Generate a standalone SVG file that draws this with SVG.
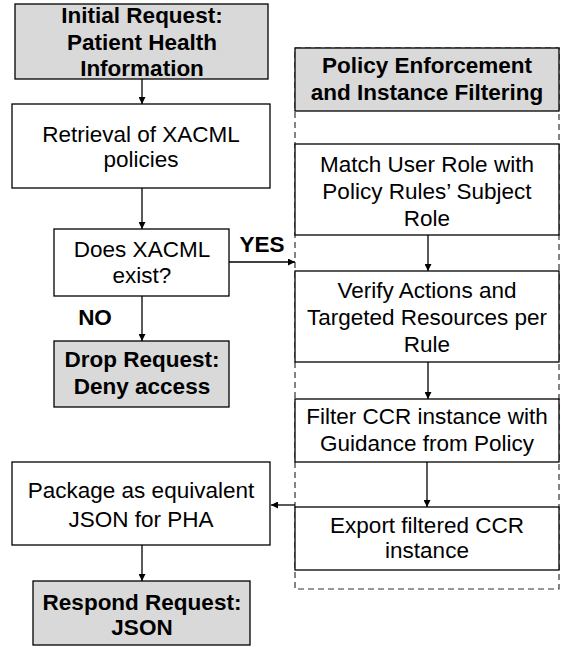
<svg xmlns="http://www.w3.org/2000/svg" width="569" height="647" viewBox="0 0 569 647">
  <style>
    .box { fill: #ffffff; stroke: #000000; stroke-width: 1.3; }
    .term { fill: #d9d9d9; stroke: #000000; stroke-width: 1.3; }
    .frame { fill: none; stroke: #333333; stroke-width: 1.2; stroke-dasharray: 6 4; }
    .t { font-family: "Liberation Sans", Arial, sans-serif; font-size: 22.5px; fill: #000000; text-anchor: middle; }
    .b { font-weight: bold; }
    .edge { fill: none; stroke: #000000; stroke-width: 1.3; }
  </style>
  <defs>
    <marker id="arrow" viewBox="0 0 10 10" refX="10" refY="5" markerWidth="7" markerHeight="7" markerUnits="userSpaceOnUse" orient="auto">
      <path d="M0,0 L10,5 L0,10 z" fill="#000000"/>
    </marker>
  </defs>
  <rect width="569" height="647" fill="#ffffff"/>

  <!-- dashed container for the enforcement stage -->
  <g id="enforcement-frame">
    <rect class="frame" x="295" y="48" width="264" height="541"/>
  </g>

  <g id="initial-request">
    <rect class="term" x="15" y="4" width="253" height="75"/>
    <text class="t b" x="142" y="23">Initial Request:</text>
    <text class="t b" x="142" y="50">Patient Health</text>
    <text class="t b" x="142" y="76">Information</text>
  </g>

  <g id="retrieval">
    <rect class="box" x="12" y="104" width="258" height="84"/>
    <text class="t" x="141" y="142">Retrieval of XACML</text>
    <text class="t" x="141" y="167">policies</text>
  </g>

  <g id="xacml-exists">
    <rect class="box" x="54" y="229" width="175" height="67"/>
    <text class="t" x="142" y="257">Does XACML</text>
    <text class="t" x="142" y="283">exist?</text>
  </g>

  <g id="drop-request">
    <rect class="term" x="54" y="341" width="175" height="66"/>
    <text class="t b" x="142" y="367">Drop Request:</text>
    <text class="t b" x="142" y="394">Deny access</text>
  </g>

  <g id="package-json">
    <rect class="box" x="12" y="462" width="258" height="83"/>
    <text class="t" x="141" y="498">Package as equivalent</text>
    <text class="t" x="141" y="527">JSON for PHA</text>
  </g>

  <g id="respond-request">
    <rect class="term" x="33" y="581" width="217" height="64"/>
    <text class="t b" x="142" y="610">Respond Request:</text>
    <text class="t b" x="142" y="635">JSON</text>
  </g>

  <g id="enforcement-header">
    <rect class="term" x="295" y="48" width="264" height="63"/>
    <text class="t b" x="427" y="73">Policy Enforcement</text>
    <text class="t b" x="427" y="100">and Instance Filtering</text>
  </g>

  <g id="match-role">
    <rect class="box" x="295" y="144" width="264" height="91"/>
    <text class="t" x="427" y="172">Match User Role with</text>
    <text class="t" x="427" y="199">Policy Rules’ Subject</text>
    <text class="t" x="427" y="226">Role</text>
  </g>

  <g id="verify-actions">
    <rect class="box" x="295" y="271" width="264" height="91"/>
    <text class="t" x="427" y="298">Verify Actions and</text>
    <text class="t" x="427" y="325">Targeted Resources per</text>
    <text class="t" x="427" y="352">Rule</text>
  </g>

  <g id="filter-ccr">
    <rect class="box" x="295" y="399" width="264" height="63"/>
    <text class="t" x="427" y="424">Filter CCR instance with</text>
    <text class="t" x="427" y="451">Guidance from Policy</text>
  </g>

  <g id="export-ccr">
    <rect class="box" x="295" y="507" width="264" height="63"/>
    <text class="t" x="427" y="533">Export filtered CCR</text>
    <text class="t" x="427" y="558">instance</text>
  </g>

  <g id="connectors">
    <line class="edge" x1="142" y1="79" x2="142" y2="104" marker-end="url(#arrow)"/>
    <line class="edge" x1="142" y1="188" x2="142" y2="229" marker-end="url(#arrow)"/>
    <line class="edge" x1="142" y1="296" x2="142" y2="341" marker-end="url(#arrow)"/>
    <line class="edge" x1="229" y1="262" x2="295" y2="262" marker-end="url(#arrow)"/>
    <line class="edge" x1="428" y1="235" x2="428" y2="271" marker-end="url(#arrow)"/>
    <line class="edge" x1="428" y1="362" x2="428" y2="399" marker-end="url(#arrow)"/>
    <line class="edge" x1="427" y1="462" x2="427" y2="507" marker-end="url(#arrow)"/>
    <line class="edge" x1="295" y1="505" x2="271" y2="505" marker-end="url(#arrow)"/>
    <line class="edge" x1="142" y1="545" x2="142" y2="581" marker-end="url(#arrow)"/>
    <text class="t b" x="262" y="252">YES</text>
    <text class="t b" x="95" y="325">NO</text>
  </g>
</svg>
